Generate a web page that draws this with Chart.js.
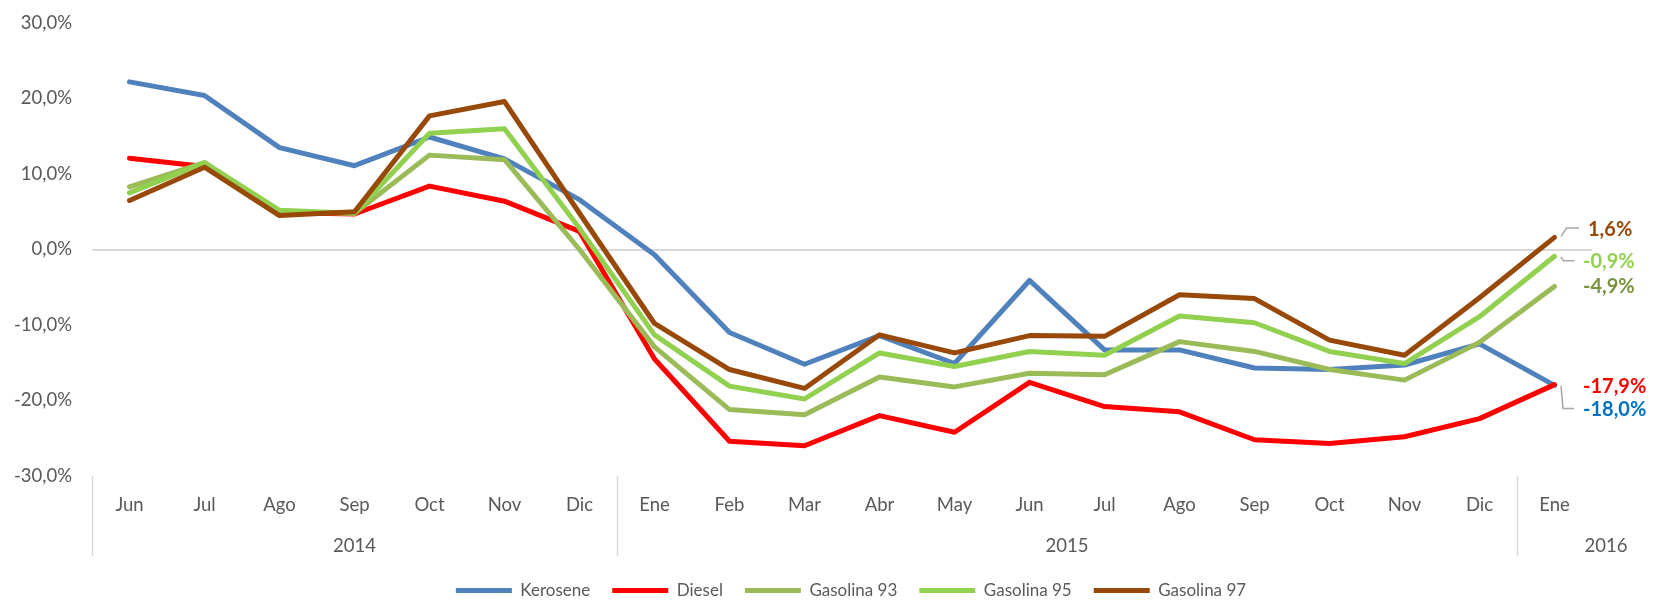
<!DOCTYPE html>
<html><head><meta charset="utf-8">
<script src="https://cdn.jsdelivr.net/npm/chart.js@4.4.1/dist/chart.umd.min.js"></script>
<style>html,body{margin:0;padding:0;background:#fff;} #wrap{width:1659px;height:600px;position:relative;}</style>
</head><body><div id="wrap"><canvas id="c"></canvas></div>
<script>
const months = ['Jun','Jul','Ago','Sep','Oct','Nov','Dic','Ene','Feb','Mar','Abr','May','Jun','Jul','Ago','Sep','Oct','Nov','Dic','Ene'];
const yearLabels = ['2014','2015','2016'];
const yearSpans = [7, 12, 1];
const seriesNames = ['Kerosene','Diesel','Gasolina 93','Gasolina 95','Gasolina 97'];
const kerosene   = [22.2,20.4,13.5,11.1,14.9,12.0,6.6,-0.7,-11.0,-15.2,-11.4,-15.1,-4.1,-13.3,-13.3,-15.7,-15.9,-15.3,-12.5,-18.0];
const diesel     = [12.1,11.0,4.9,4.7,8.4,6.4,2.4,-14.5,-25.4,-26.0,-22.0,-24.2,-17.6,-20.8,-21.5,-25.2,-25.7,-24.8,-22.4,-17.9];
const gasolina93 = [8.3,11.5,5.0,4.8,12.5,11.9,0.0,-12.9,-21.2,-21.9,-16.9,-18.2,-16.4,-16.6,-12.2,-13.5,-15.9,-17.3,-12.3,-4.9];
const gasolina95 = [7.5,11.5,5.2,4.8,15.4,16.0,2.8,-11.3,-18.1,-19.8,-13.7,-15.5,-13.5,-14.0,-8.8,-9.7,-13.5,-15.1,-8.9,-0.9];
const gasolina97 = [6.5,10.9,4.5,5.0,17.7,19.6,4.8,-9.8,-15.9,-18.4,-11.3,-13.7,-11.4,-11.5,-6.0,-6.5,-12.0,-14.0,-6.4,1.6];
const yTicks = [-30,-20,-10,0,10,20,30];

const lineColors = ['#4F81BD','#FF0000','#9BBB59','#92D050','#984807'];
const labelColors = ['#0070C0','#FF0000','#77933C','#92D050','#984807'];
const FONT = 'Lato';
const fmt = v => v.toFixed(1).replace('.', ',') + '%';

const allSeries = [kerosene, diesel, gasolina93, gasolina95, gasolina97];
const datasets = allSeries.map((d, i) => ({
  label: seriesNames[i],
  data: d,
  borderColor: lineColors[i],
  backgroundColor: lineColors[i],
  borderWidth: 5,
  pointRadius: 0,
  pointHoverRadius: 0,
  tension: 0,
  borderJoinStyle: 'round',
  borderCapStyle: 'round',
  order: allSeries.length - i
}));

// end-of-line label placement (offsets from last point, px) and leader polylines
const endLabelStyle = [
  {dx: 28.5, dy: 24,   leader: [[6.5,0.5],[8.5,23],[19.5,23]]},
  {dx: 28.5, dy: 2,    leader: null},
  {dx: 28.5, dy: 0,    leader: null},
  {dx: 28.5, dy: 5.5,  leader: [[6.5,0.5],[9,4.5],[20,4.5]]},
  {dx: 33.5, dy: -7.7, leader: [[6.5,-1],[12,-9.4],[24.5,-9.4]]}
];

const endLabels = {
  id: 'endLabels',
  afterDatasetsDraw(chart) {
    const ctx = chart.ctx;
    ctx.save();
    chart.data.datasets.forEach((ds, i) => {
      const meta = chart.getDatasetMeta(i);
      const last = meta.data[meta.data.length - 1];
      const st = endLabelStyle[i];
      const px = last.x, py = last.y;
      if (st.leader) {
        ctx.beginPath();
        ctx.strokeStyle = '#A6A6A6';
        ctx.lineWidth = 1.5;
        st.leader.forEach((p, k) => {
          if (k === 0) ctx.moveTo(px + p[0], py + p[1]); else ctx.lineTo(px + p[0], py + p[1]);
        });
        ctx.stroke();
      }
      ctx.font = 'bold 20px ' + FONT;
      ctx.fillStyle = labelColors[i];
      ctx.textAlign = 'left';
      ctx.textBaseline = 'middle';
      ctx.fillText(fmt(ds.data[ds.data.length - 1]), px + st.dx, py + st.dy);
    });
    ctx.restore();
  }
};

const yearAxis = {
  id: 'yearAxis',
  afterDraw(chart) {
    const ctx = chart.ctx;
    const xs = chart.scales.x;
    const top = chart.chartArea.bottom;
    ctx.save();
    ctx.strokeStyle = '#D9D9D9';
    ctx.lineWidth = 1.5;
    let start = 0;
    const bounds = [xs.getPixelForValue(-0.5)];
    yearSpans.forEach(n => { start += n; bounds.push(xs.getPixelForValue(start - 0.5)); });
    bounds.slice(0, bounds.length - 1).forEach(bx => {
      const x = Math.round(bx) + 0.5;
      ctx.beginPath(); ctx.moveTo(x, top); ctx.lineTo(x, top + 80); ctx.stroke();
    });
    ctx.font = '18.5px ' + FONT;
    ctx.fillStyle = '#595959';
    ctx.textAlign = 'center';
    ctx.textBaseline = 'middle';
    yearLabels.forEach((lab, k) => {
      let x0 = bounds[k], x1 = bounds[k + 1];
      if (k === yearLabels.length - 1) x1 = chart.width + 36;
      ctx.fillText(lab, (x0 + x1) / 2, top + 70);
    });
    ctx.restore();
  }
};

const legendShift = {
  id: 'legendShift',
  afterLayout(chart) {
    if (chart.legend) { chart.legend.left += 9; chart.legend.right += 9; }
  }
};

new Chart(document.getElementById('c'), {
  type: 'line',
  data: { labels: months, datasets },
  options: {
    responsive: true,
    maintainAspectRatio: false,
    animation: false,
    events: [],
    layout: { padding: { top: 23, right: 67, left: 0, bottom: 0 } },
    scales: {
      x: {
        type: 'category',
        offset: true,
        grid: { display: false },
        border: { display: false },
        ticks: { color: '#595959', font: { family: FONT, size: 18.5 }, padding: 10, maxRotation: 0, autoSkip: false },
        afterFit: s => { s.height = 84; }
      },
      y: {
        min: -30, max: 30,
        afterBuildTicks: s => { s.ticks = yTicks.map(v => ({ value: v })); },
        grid: {
          drawTicks: true,
          tickLength: 20,
          tickColor: 'rgba(0,0,0,0)',
          lineWidth: 2,
          color: c => (c.tick && c.tick.value === 0) ? '#D9D9D9' : 'rgba(0,0,0,0)'
        },
        border: { display: false },
        ticks: { color: '#595959', font: { family: FONT, size: 18.5 }, padding: 0, callback: v => fmt(v) },
        afterFit: s => { s.width = 92; }
      }
    },
    plugins: {
      tooltip: { enabled: false },
      legend: {
        position: 'bottom',
        fullSize: false,
        maxHeight: 40,
        labels: {
          boxWidth: 56,
          boxHeight: 5,
          padding: 22,
          useBorderRadius: true,
          borderRadius: 2.5,
          color: '#595959',
          font: { family: FONT, size: 17 },
          generateLabels: chart => chart.data.datasets.map((ds, i) => ({
            text: ds.label,
            fillStyle: ds.borderColor,
            strokeStyle: ds.borderColor,
            lineWidth: 0,
            hidden: false,
            datasetIndex: i,
            fontColor: '#595959'
          }))
        }
      }
    }
  },
  plugins: [endLabels, yearAxis, legendShift]
});
</script></body></html>
